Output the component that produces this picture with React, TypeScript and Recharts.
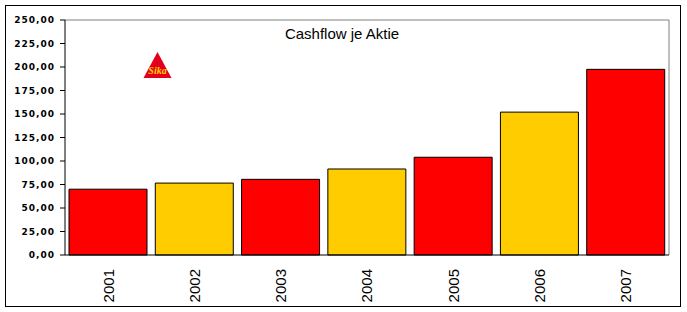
import React from "react";
import { BarChart, Bar, Cell, XAxis, YAxis, ReferenceLine } from "recharts";

const years = ["2001", "2002", "2003", "2004", "2005", "2006", "2007"];
const cashflow = [70, 76.5, 80.5, 91.5, 104, 152, 197.5];
const barColors = ["#FF0000", "#FFCC00", "#FF0000", "#FFCC00", "#FF0000", "#FFCC00", "#FF0000"];
const yTicks = [0, 25, 50, 75, 100, 125, 150, 175, 200, 225, 250];
const bandTicks = [0, 1, 2, 3, 4, 5, 6, 7];

const data = years.map((year, i) => ({ year, value: cashflow[i] }));

const fmt = (v: number) => v.toFixed(2).replace(".", ",");

function YearTick(props: any) {
    const { x, y, payload } = props;
    return <text x={x} y={y} dy="0.36em" transform={`rotate(-90 ${x} ${y})`} textAnchor="end"
        fontFamily="'Liberation Sans', Arial, sans-serif" fontSize={15} fill="#000">
        {payload.value}
    </text>;
}

function SikaLogo() {
    // small logo in the upper left of the plot
    return <svg width={687} height={312} style={{ position: "absolute", left: 0, top: 0, pointerEvents: "none" }}>
        <text x={342} y={39} textAnchor="middle" fontFamily="'Liberation Sans', Arial, sans-serif" fontSize={15} fill="#000">
            Cashflow je Aktie
        </text>
        <polygon points="157.5,52 143.5,78 171.5,78" fill="#E2001A" />
        <text x={157.5} y={74} textAnchor="middle" fontFamily="'Liberation Serif', serif" fontStyle="italic"
            fontWeight="bold" fontSize={10} fill="#FFD200">Sika</text>
    </svg>;
}

export default function App() {
    return <div style={{ position: "absolute", left: 0, top: 0, width: 687, height: 312, background: "#fff" }}>
        <div style={{ position: "absolute", left: 5, top: 5, width: 674, height: 300, border: "1px solid #000" }} />
        <BarChart width={687} height={312} data={data} margin={{ top: 20, right: 18, bottom: 0, left: 0 }}
            barCategoryGap={4}>
            <XAxis xAxisId="frame" type="number" dataKey="x" domain={[0, 7]} ticks={bandTicks} height={0}
                tick={() => <g />} tickSize={6} axisLine={false} tickLine={{ stroke: "#000" }} allowDataOverflow />
            <XAxis dataKey="year" height={57} tickLine={false} axisLine={{ stroke: "#000" }}
                tick={<YearTick />} tickMargin={8} interval={0} />
            <YAxis width={65} domain={[0, 250]} ticks={yTicks} interval={0} tickFormatter={fmt}
                tickSize={5} tickMargin={5} axisLine={{ stroke: "#000" }} tickLine={{ stroke: "#000" }}
                tick={{ fontFamily: "'DejaVu Sans', Verdana, sans-serif", fontWeight: "bold", fontSize: 9, fill: "#000", letterSpacing: 1 }} />
            <ReferenceLine y={250} stroke="#808080" />
            <ReferenceLine x={7} xAxisId="frame" stroke="#808080" />
            <Bar dataKey="value" stroke="#000" strokeWidth={1} isAnimationActive={false}>
                {data.map((d, i) => <Cell key={`cell-${d.year}`} fill={barColors[i]} />)}
            </Bar>
        </BarChart>
        <SikaLogo />
    </div>;
}
